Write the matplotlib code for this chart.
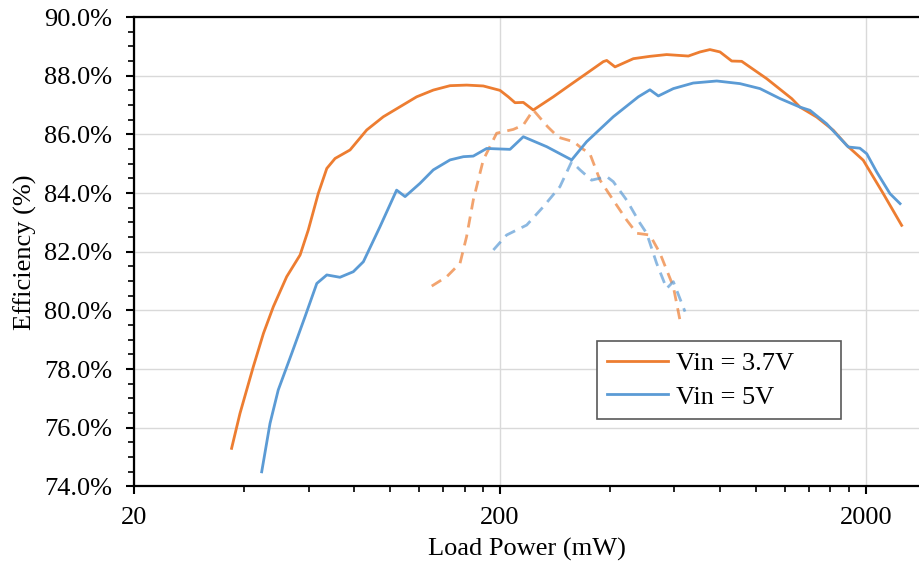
import matplotlib
matplotlib.use("Agg")
import matplotlib.pyplot as plt
from matplotlib.ticker import FixedLocator, FuncFormatter, MultipleLocator, NullFormatter

# ---- data ----
p37_solid = [36.9, 38.9, 42.3, 45.1, 48.0, 52.2, 56.8, 59.8, 63.7, 67.2, 70.8, 77.8, 86.4,
             95.9, 106.5, 118.3, 131.4, 146.0, 162.2, 180.0, 200.0, 210.7, 219.8, 231.6,
             246.6, 279.7, 310.5, 345.1, 383.3, 391.6, 412.6, 463.0, 514.0, 571.0, 654.6,
             704.7, 750.0, 799.0, 860.3, 916.0, 1072.0, 1255.0, 1322.0, 1469.0, 1631.0,
             1774.0, 1969.0, 2234.0, 2508.0]
e37_solid = [75.30, 76.49, 78.08, 79.22, 80.13, 81.15, 81.89, 82.74, 83.99, 84.84, 85.18,
             85.47, 86.15, 86.60, 86.94, 87.28, 87.51, 87.66, 87.68, 87.65, 87.50, 87.28,
             87.08, 87.09, 86.83, 87.28, 87.68, 88.08, 88.48, 88.52, 88.30, 88.58, 88.66,
             88.72, 88.67, 88.81, 88.89, 88.81, 88.50, 88.49, 87.90, 87.22, 86.93, 86.59,
             86.14, 85.63, 85.12, 83.98, 82.90]

p5_solid = [44.6, 47.0, 49.5, 53.9, 58.6, 63.1, 67.2, 73.0, 79.4, 84.6, 93.9, 104.3, 110.0,
            120.8, 131.4, 146.0, 158.8, 169.0, 183.9, 213.0, 231.6, 268.4, 314.0, 345.0,
            408.0, 477.8, 514.0, 542.0, 595.6, 675.0, 783.0, 906.0, 1028.0, 1166.0, 1322.0,
            1408.0, 1564.0, 1792.0, 1927.0, 2013.0, 2143.0, 2330.0, 2483.0]
e5_solid = [74.50, 76.15, 77.29, 78.54, 79.79, 80.92, 81.21, 81.13, 81.32, 81.66, 82.85,
            84.10, 83.88, 84.33, 84.79, 85.13, 85.24, 85.26, 85.52, 85.49, 85.92, 85.58,
            85.13, 85.75, 86.60, 87.28, 87.52, 87.31, 87.56, 87.75, 87.82, 87.73, 87.56,
            87.22, 86.93, 86.82, 86.36, 85.57, 85.53, 85.34, 84.72, 83.98, 83.64]

p37_dash = [130.1, 143.0, 155.5, 162.0, 169.0, 180.0, 195.8, 217.5, 231.6, 246.6, 270.0,
            289.0, 318.0, 335.0, 352.0, 375.4, 408.0, 444.0, 473.0, 514.0, 547.6, 595.6, 621.0]
e37_dash = [80.83, 81.15, 81.61, 82.51, 83.76, 85.13, 86.04, 86.17, 86.32, 86.83, 86.26,
            85.90, 85.75, 85.52, 85.35, 84.44, 83.76, 83.08, 82.63, 82.57, 81.95, 80.81, 79.67]

p5_dash = [191.8, 208.5, 236.6, 262.5, 291.7, 314.0, 331.0, 356.0, 391.6, 408.0, 444.0,
           483.0, 503.5, 536.0, 571.0, 595.6, 641.0]
e5_dash = [82.06, 82.57, 82.91, 83.53, 84.22, 85.07, 84.79, 84.44, 84.56, 84.39, 83.76,
           82.97, 82.63, 81.61, 80.75, 80.98, 79.96]

labels = ["Vin = 3.7V", "Vin = 5V"]
x_major = [20, 200, 2000]
x_minor = [40, 60, 80, 100, 120, 140, 160, 180,
           400, 600, 800, 1000, 1200, 1400, 1600, 1800]

ORANGE = "#ED7D31"
BLUE = "#5B9BD5"

plt.rcParams['font.family'] = ['Liberation Serif', 'DejaVu Serif']

fig = plt.figure(figsize=(9.2, 5.71), dpi=100)
ax = fig.add_axes([0.146, 0.148, 1.0 - 0.146, 0.9702 - 0.148])

ax.plot(p37_solid, e37_solid, color=ORANGE, lw=2.0, label=labels[0], zorder=4,
        solid_joinstyle='round')
ax.plot(p5_solid, e5_solid, color=BLUE, lw=2.0, label=labels[1], zorder=4,
        solid_joinstyle='round')
ax.plot(p37_dash, e37_dash, color=ORANGE, lw=2.0, ls=(0, (4.0, 2.6)), alpha=0.7, zorder=3)
ax.plot(p5_dash, e5_dash, color=BLUE, lw=2.0, ls=(0, (4.0, 2.6)), alpha=0.7, zorder=3)

ax.set_xscale('log')
ax.set_xlim(20, 2815)
ax.set_ylim(74, 90)

ax.xaxis.set_major_locator(FixedLocator(x_major))
ax.xaxis.set_minor_locator(FixedLocator(x_minor))
ax.xaxis.set_major_formatter(FuncFormatter(lambda v, p: f"{v:g}"))
ax.xaxis.set_minor_formatter(NullFormatter())
ax.yaxis.set_major_locator(MultipleLocator(2))
ax.yaxis.set_minor_locator(MultipleLocator(0.5))
ax.yaxis.set_major_formatter(FuncFormatter(lambda v, p: f"{v:.1f}%"))

ax.grid(True, which='major', color='#D9D9D9', lw=1.0, zorder=0)
ax.set_axisbelow(True)

ax.tick_params(axis='both', which='major', direction='out', length=6, width=1.5,
               labelsize=19, color='black')
ax.tick_params(axis='both', which='minor', direction='out', length=4, width=1.2, color='black')
ax.tick_params(axis='y', which='major', pad=10)
ax.tick_params(axis='x', which='major', pad=9)

for s in ['left', 'bottom', 'top']:
    ax.spines[s].set_linewidth(1.6)
    ax.spines[s].set_color('black')
ax.spines['right'].set_visible(False)

ax.set_xlabel("Load Power (mW)", fontsize=19, labelpad=6)
ax.set_ylabel("Efficiency (%)", fontsize=19, labelpad=5)

leg = ax.legend(loc='upper left', bbox_to_anchor=(0.5885, 0.0, 0.3105, 0.3099),
                mode='expand', borderaxespad=0,
                fontsize=19, frameon=True, fancybox=False, framealpha=1,
                edgecolor='#595959', handlelength=2.3, handletextpad=0.3,
                labelspacing=0.38, borderpad=0.4)
leg.get_frame().set_linewidth(1.2)

fig.savefig("out.png", dpi=100)
